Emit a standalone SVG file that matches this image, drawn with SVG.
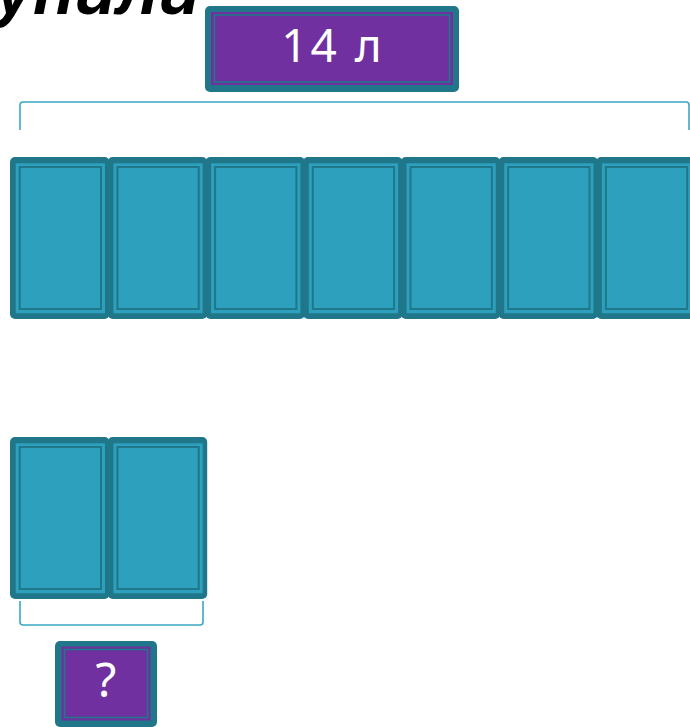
<svg xmlns="http://www.w3.org/2000/svg" width="690" height="727" viewBox="0 0 690 727">
<defs>
<style>
.outer{fill:#1f7789}
.light{fill:#2ca0bd}
.inner{fill:#2ca0bd;stroke:#1f7789;stroke-width:2}
.pouter{fill:#1f7789}
.purple{fill:#7030a0}
.pline{fill:none;stroke:#1f7789;stroke-width:1.6}
.lbl{font-family:"Noto Sans","Open Sans",sans-serif;fill:#ffffff}
.brace{fill:none;stroke:#3aa8c2;stroke-width:1.6}
</style>
<g id="blk">
<rect class="outer" x="0" y="0" width="99.5" height="162" rx="5"/>
<rect class="light" x="5.7" y="6.3" width="89.3" height="150"/>
<rect class="inner" x="9.7" y="10" width="81.3" height="142"/>
</g>
</defs>
<rect width="690" height="727" fill="#ffffff"/>
<text x="200" y="14" text-anchor="end" font-family="'Liberation Sans',sans-serif" font-weight="bold" font-style="italic" font-size="68" fill="#000000">купили</text>
<g id="total-label">
<rect class="pouter" x="205" y="6" width="254" height="86" rx="5"/>
<rect class="purple" x="211" y="12" width="242" height="73"/>
<rect class="pline" x="214.5" y="15" width="235" height="67"/>
<text class="lbl" x="333" y="62" text-anchor="middle" font-size="46" letter-spacing="3">14 л</text>
</g>
<g id="connectors">
<path class="brace" d="M20,130 V105 Q20,102 23,102 H686 Q689,102 689,105 V130"/>
<path class="brace" d="M20,601 V622 Q20,625 23,625 H200 Q203,625 203,622 V601"/>
</g>
<g id="row-top">
<use href="#blk" x="10" y="157"/>
<use href="#blk" x="107.7" y="157"/>
<use href="#blk" x="205.4" y="157"/>
<use href="#blk" x="303.1" y="157"/>
<use href="#blk" x="400.8" y="157"/>
<use href="#blk" x="498.5" y="157"/>
<use href="#blk" x="596.2" y="157"/>
</g>
<g id="row-bottom">
<use href="#blk" x="10" y="437"/>
<use href="#blk" x="107.7" y="437"/>
</g>
<g id="question-label">
<rect class="pouter" x="55" y="641" width="102" height="86" rx="5"/>
<rect class="purple" x="61.5" y="646.5" width="89" height="74"/>
<rect class="pline" x="64.5" y="649.5" width="83" height="68"/>
<text class="lbl" x="106" y="697" text-anchor="middle" font-size="48">?</text>
</g>
</svg>
